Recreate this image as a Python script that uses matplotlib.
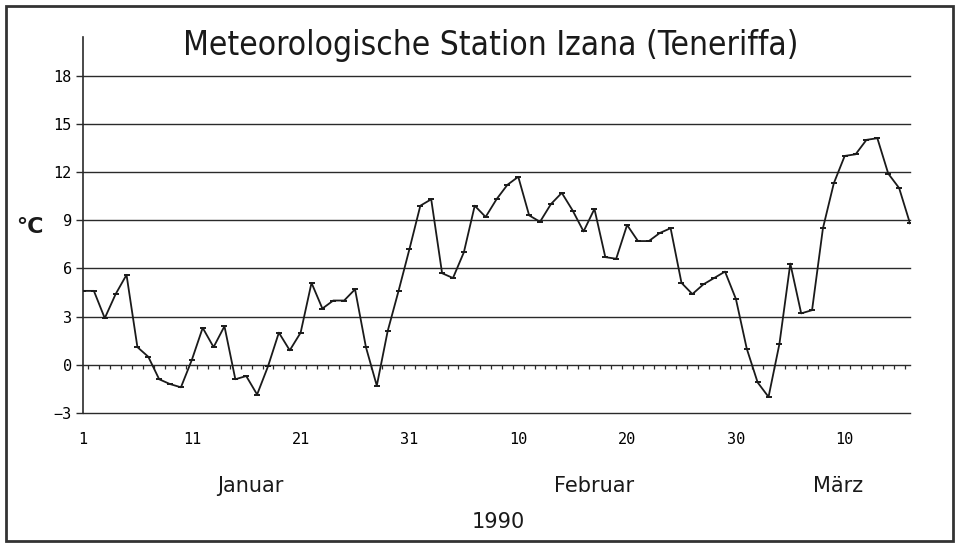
import numpy as np
import matplotlib.pyplot as plt
from matplotlib.patches import Rectangle

# daily mean temperature, Izana, 1 Jan - mid March 1990
days = np.arange(1, 78)
temps = [4.6, 4.6, 2.9, 4.4, 5.6, 1.1, 0.5, -0.9, -1.2, -1.4,
         0.3, 2.3, 1.1, 2.4, -0.9, -0.7, -1.85, -0.1, 2.0, 0.9,
         2.0, 5.1, 3.5, 4.0, 4.0, 4.7, 1.1, -1.3, 2.1, 4.6,
         7.2, 9.9, 10.3, 5.7, 5.4, 7.0, 9.9, 9.2, 10.3, 11.2,
         11.7, 9.3, 8.9, 10.0, 10.7, 9.6, 8.3, 9.7, 6.7, 6.6,
         8.7, 7.7, 7.7, 8.2, 8.5, 5.1, 4.4, 5.0, 5.4, 5.8,
         4.1, 1.0, -1.1, -2.0, 1.3, 6.3, 3.2, 3.4, 8.5, 11.3,
         13.0, 13.1, 14.0, 14.1, 11.9, 11.0, 8.8]

xtick_pos = [1, 11, 21, 31, 41, 51, 61, 71]
xtick_labels = ['1', '11', '21', '31', '10', '20', '30', '10']
ytick_pos = [-3, 0, 3, 6, 9, 12, 15, 18]
months = ['Januar', 'Februar', 'März']
month_x = [16.4, 48.0, 70.4]

title = 'Meteorologische Station Izana (Teneriffa)'
ink = '#2a2a2a'

W, H = 959, 546
fig = plt.figure(figsize=(W / 100, H / 100), dpi=100)
fig.patch.set_facecolor('white')

left, right = 83 / W, 910 / W
bottom, top = 1 - 413 / H, 1 - 37 / H
ax = fig.add_axes([left, bottom, right - left, top - bottom])
ax.set_xlim(1, 77)
ax.set_ylim(-3, 20.4)

# horizontal lines
for y in ytick_pos:
    ax.axhline(y, color=ink, lw=1.0, zorder=1, clip_on=False)

# day ticks along the zero line
ax.vlines(np.arange(1.5, 77, 1), -0.28, 0, color=ink, lw=0.9, zorder=1)

ax.plot(days, temps, color='#1a1a1a', lw=1.3, marker='_', ms=4, mew=1.4, zorder=3)

for s in ['top', 'right', 'bottom']:
    ax.spines[s].set_visible(False)
ax.spines['left'].set_color(ink)
ax.spines['left'].set_linewidth(1.2)

mono = ['DejaVu Sans Mono']
ax.set_yticks(ytick_pos)
ax.set_yticklabels([str(v).replace('-', '\u2212') for v in ytick_pos], family=mono, fontsize=11)
ax.tick_params(axis='y', length=5, width=1, color=ink, pad=3)
ax.set_xticks(xtick_pos)
ax.set_xticklabels(xtick_labels, family=mono, fontsize=11)
ax.tick_params(axis='x', length=0, pad=14)

fig.text(491 / W, 1 - 45 / H, title, ha='center', va='center', fontsize=24,
         family='DejaVu Sans', stretch='condensed', color='#1a1a1a')
fig.text(30 / W, 1 - 227 / H, '°C', ha='center', va='center', fontsize=16,
         weight='bold', color='#1a1a1a')

for m, mx in zip(months, month_x):
    ax.annotate(m, xy=(mx, 0), xycoords=('data', 'figure fraction'),
                xytext=(0, H - 486), textcoords='offset pixels',
                ha='center', va='center', fontsize=15, color='#1a1a1a')
fig.text(498 / W, 1 - 522 / H, '1990', ha='center', va='center', fontsize=15, color='#1a1a1a')

# outer frame
fig.patches.append(Rectangle((6 / W, 5 / H), (953 - 6) / W, (540 - 5) / H,
                             transform=fig.transFigure, fill=False,
                             edgecolor='#333333', lw=2))

fig.savefig('out.png', dpi=100)
